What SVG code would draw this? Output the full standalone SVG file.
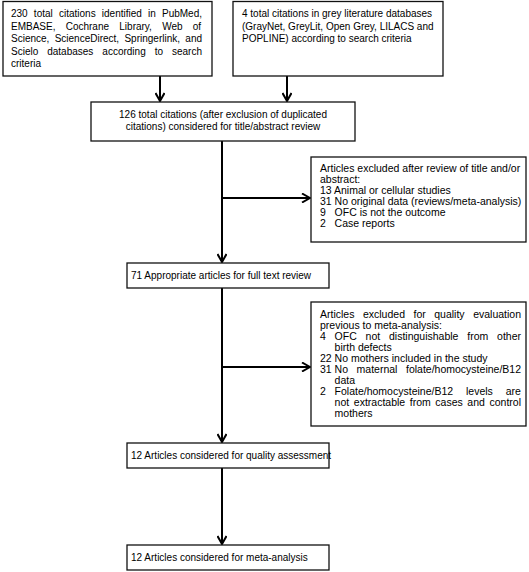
<svg xmlns="http://www.w3.org/2000/svg" width="529" height="572" viewBox="0 0 529 572">
<style>
.box{fill:#fff;stroke:#111;stroke-width:1.3}
.t{font-family:"Liberation Sans",Arial,sans-serif;font-size:10px;fill:#000}
.s{font-family:"Liberation Sans",Arial,sans-serif;font-size:10.5px;fill:#000}
.c{text-anchor:middle}
.ln{fill:none;stroke:#000;stroke-width:2}
</style>
<defs>
<marker id="ah" viewBox="0 0 10 10" refX="9" refY="5" markerWidth="10" markerHeight="10" markerUnits="userSpaceOnUse" orient="auto">
<path d="M1,0.5 L9,5 L1,9.5" fill="none" stroke="#000" stroke-width="2"/>
</marker>
</defs>
<rect width="529" height="572" fill="#fff"/>
<g id="connectors">
<line class="ln" x1="160" y1="76" x2="160" y2="101" marker-end="url(#ah)"/>
<line class="ln" x1="287" y1="76" x2="287" y2="101" marker-end="url(#ah)"/>
<line class="ln" x1="222" y1="141" x2="222" y2="262" marker-end="url(#ah)"/>
<line class="ln" x1="222" y1="198" x2="310" y2="198" marker-end="url(#ah)"/>
<line class="ln" x1="222" y1="288" x2="222" y2="442" marker-end="url(#ah)"/>
<line class="ln" x1="222" y1="367" x2="310" y2="367" marker-end="url(#ah)"/>
<line class="ln" x1="222" y1="468" x2="222" y2="544" marker-end="url(#ah)"/>
</g>
<g id="n1">
<rect class="box" x="3" y="1.5" width="209" height="74.5"/>
<text class="t" x="11" y="17" style="word-spacing:3.4px">230 total citations identified in PubMed,</text>
<text class="t" x="11" y="29.5" style="word-spacing:7.46px">EMBASE, Cochrane Library, Web of</text>
<text class="t" x="11" y="42" style="word-spacing:2.53px">Science, ScienceDirect, Springerlink, and</text>
<text class="t" x="11" y="54.5" style="word-spacing:6.2px">Scielo databases according to search</text>
<text class="t" x="11" y="67">criteria</text>
</g>
<g id="n2">
<rect class="box" x="233" y="1.5" width="210" height="74.5"/>
<text class="t" x="242" y="17">4 total citations in grey literature databases</text>
<text class="t" x="242" y="29.5">(GrayNet, GreyLit, Open Grey, LILACS and</text>
<text class="t" x="242" y="42">POPLINE) according to search criteria</text>
</g>
<g id="n3">
<rect class="box" x="91" y="102" width="264" height="39"/>
<text class="t c" x="223" y="117.5">126 total citations (after exclusion of duplicated</text>
<text class="t c" x="223" y="129.5">citations) considered for title/abstract review</text>
</g>
<g id="n4">
<rect class="box" x="311" y="157" width="215" height="85"/>
<text class="s" x="320" y="172">Articles excluded after review of title and/or</text>
<text class="s" x="320" y="183">abstract:</text>
<text class="s" x="320" y="194">13 Animal or cellular studies</text>
<text class="s" x="320" y="205">31 No original data (reviews/meta-analysis)</text>
<text class="s" x="320" y="216">9</text><text class="s" x="334.6" y="216">OFC is not the outcome</text>
<text class="s" x="320" y="227">2</text><text class="s" x="334.6" y="227">Case reports</text>
</g>
<g id="n5">
<rect class="box" x="127" y="263" width="202" height="25"/>
<text class="t" x="131" y="279">71 Appropriate articles for full text review</text>
</g>
<g id="n6">
<rect class="box" x="311" y="302" width="215" height="124"/>
<text class="s" x="320" y="317.5" style="word-spacing:5.6px">Articles excluded for quality evaluation</text>
<text class="s" x="320" y="328.6">previous to meta-analysis:</text>
<text class="s" x="320" y="339.7">4</text><text class="s" x="334.6" y="339.7" style="word-spacing:5.9px">OFC not distinguishable from other</text>
<text class="s" x="334.6" y="350.8">birth defects</text>
<text class="s" x="320" y="361.9">22 No mothers included in the study</text>
<text class="s" x="320" y="373">31</text><text class="s" x="334.6" y="373" style="word-spacing:5.65px">No maternal folate/homocysteine/B12</text>
<text class="s" x="334.6" y="384.1">data</text>
<text class="s" x="320" y="395.2">2</text><text class="s" x="334.6" y="395.2" style="word-spacing:10px">Folate/homocysteine/B12 levels are</text>
<text class="s" x="334.6" y="406.3" style="word-spacing:1.68px">not extractable from cases and control</text>
<text class="s" x="334.6" y="417.4">mothers</text>
</g>
<g id="n7">
<rect class="box" x="127" y="443" width="202" height="25"/>
<text class="t" x="131" y="459">12 Articles considered for quality assessment</text>
</g>
<g id="n8">
<rect class="box" x="127" y="545" width="202" height="25"/>
<text class="t" x="131" y="561">12 Articles considered for meta-analysis</text>
</g>
</svg>
